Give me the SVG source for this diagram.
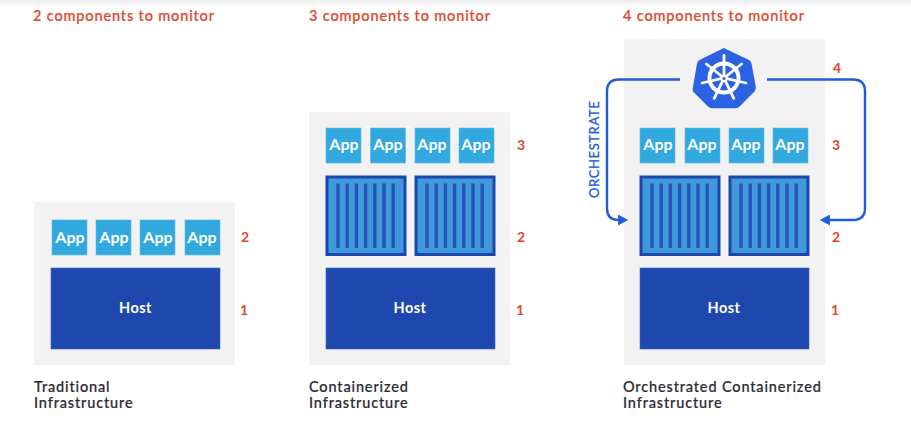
<svg xmlns="http://www.w3.org/2000/svg" width="911" height="424" viewBox="0 0 911 424">
<defs>
<linearGradient id="top" x1="0" y1="0" x2="0" y2="1"><stop offset="0" stop-color="#ececec"/><stop offset="1" stop-color="#ffffff"/></linearGradient>
<marker id="arrow" viewBox="0 0 12 12" refX="1" refY="6" markerWidth="11" markerHeight="11" markerUnits="userSpaceOnUse" orient="auto"><path d="M0 0L11 6L0 12Z" fill="#1f5bdc"/></marker>
<g id="spoke">
<line x1="724" y1="76" x2="724" y2="55.500" class="wh"/>
</g>
</defs>
<style>
text{font-family:"Lato","Noto Sans",sans-serif}
.panel{fill:#f2f2f3}
.app{fill:#31a9df;stroke:#5cbbe6;stroke-width:.6}
.host{fill:#1f48ae;stroke:#3a66c4;stroke-width:.6}
.box{fill:#3f99d9;stroke:#1c46ad;stroke-width:3}
.bar{stroke:#2353b8;stroke-width:3.4;fill:none}
.t-app{fill:#fff;font-size:16px;font-weight:700;text-anchor:middle}
.t-host{fill:#fff;font-size:14.5px;font-weight:700;text-anchor:middle;letter-spacing:.5px}
.t-head{fill:#e2462a;font-size:14.5px;font-weight:500;letter-spacing:.85px;stroke:#e2462a;stroke-width:.2}
.t-num{fill:#e2462a;font-size:14px;font-weight:700;text-anchor:middle}
.t-cap{fill:#2c2c33;font-size:14.5px;font-weight:500;letter-spacing:.85px;stroke:#2c2c33;stroke-width:.2}
.conn{fill:none;stroke:#1f5bdc;stroke-width:2.4}
.wh{stroke:#fff;stroke-width:2.8;stroke-linecap:round}
</style>
<rect x="0" y="0" width="911" height="7" fill="url(#top)"/>

<g id="traditional">
<rect class="panel" x="34" y="202" width="201" height="163"/>
<text class="t-head" x="33" y="21">2 components to monitor</text>
<g id="t-app1"><rect class="app" x="52" y="220" width="35" height="35"/><text class="t-app" x="70" y="243">App</text></g>
<g id="t-app2"><rect class="app" x="96" y="220" width="35" height="35"/><text class="t-app" x="114" y="243">App</text></g>
<g id="t-app3"><rect class="app" x="140" y="220" width="35" height="35"/><text class="t-app" x="158" y="243">App</text></g>
<g id="t-app4"><rect class="app" x="185" y="220" width="35" height="35"/><text class="t-app" x="202" y="243">App</text></g>
<g id="t-host"><rect class="host" x="51" y="268" width="169" height="81"/><text class="t-host" x="135.500" y="313">Host</text></g>
<text class="t-num" x="245" y="242">2</text>
<text class="t-num" x="244" y="315">1</text>
<text class="t-cap" x="34" y="392">Traditional</text>
<text class="t-cap" x="34" y="408">Infrastructure</text>
</g>

<g id="containerized">
<rect class="panel" x="309" y="112" width="201" height="253"/>
<text class="t-head" x="309" y="21">3 components to monitor</text>
<g id="c-app1"><rect class="app" x="326" y="128" width="35" height="35"/><text class="t-app" x="344" y="150">App</text></g>
<g id="c-app2"><rect class="app" x="370.500" y="128" width="35" height="35"/><text class="t-app" x="388" y="150">App</text></g>
<g id="c-app3"><rect class="app" x="415" y="128" width="35" height="35"/><text class="t-app" x="432" y="150">App</text></g>
<g id="c-app4"><rect class="app" x="459" y="128" width="35" height="35"/><text class="t-app" x="476" y="150">App</text></g>
<g id="c-box1"><rect class="box" x="327" y="177" width="78" height="77.500"/><path class="bar" d="M338 183.500V248M347.200 183.500V248M356.400 183.500V248M365.600 183.500V248M374.800 183.500V248M384 183.500V248M393.200 183.500V248"/></g>
<g id="c-box2"><rect class="box" x="416" y="177" width="78" height="77.500"/><path class="bar" d="M427 183.500V248M436.200 183.500V248M445.400 183.500V248M454.600 183.500V248M463.800 183.500V248M473 183.500V248M482.200 183.500V248"/></g>
<g id="c-host"><rect class="host" x="326" y="268" width="169" height="81"/><text class="t-host" x="410" y="313">Host</text></g>
<text class="t-num" x="521" y="150">3</text>
<text class="t-num" x="521" y="242">2</text>
<text class="t-num" x="520" y="315">1</text>
<text class="t-cap" x="309" y="392">Containerized</text>
<text class="t-cap" x="309" y="408">Infrastructure</text>
</g>

<g id="orchestrated">
<rect class="panel" x="624" y="39" width="201" height="326"/>
<text class="t-head" x="623" y="21">4 components to monitor</text>
<g id="o-app1"><rect class="app" x="640" y="128" width="35" height="35"/><text class="t-app" x="658" y="150">App</text></g>
<g id="o-app2"><rect class="app" x="685" y="128" width="35" height="35"/><text class="t-app" x="702" y="150">App</text></g>
<g id="o-app3"><rect class="app" x="729" y="128" width="35" height="35"/><text class="t-app" x="746" y="150">App</text></g>
<g id="o-app4"><rect class="app" x="773" y="128" width="35" height="35"/><text class="t-app" x="790" y="150">App</text></g>
<g id="o-box1"><rect class="box" x="641" y="177" width="78" height="77.500"/><path class="bar" d="M652 183.500V248M661.200 183.500V248M670.400 183.500V248M679.600 183.500V248M688.800 183.500V248M698 183.500V248M707.200 183.500V248"/></g>
<g id="o-box2"><rect class="box" x="730" y="177" width="78" height="77.500"/><path class="bar" d="M741 183.500V248M750.200 183.500V248M759.400 183.500V248M768.600 183.500V248M777.800 183.500V248M787 183.500V248M796.200 183.500V248"/></g>
<g id="o-host"><rect class="host" x="640" y="268" width="169" height="81"/><text class="t-host" x="724" y="313">Host</text></g>
<text class="t-num" x="837" y="73">4</text>
<text class="t-num" x="836" y="150">3</text>
<text class="t-num" x="836" y="242">2</text>
<text class="t-num" x="835" y="315">1</text>
<text class="t-cap" x="623" y="392">Orchestrated Containerized</text>
<text class="t-cap" x="623" y="408">Infrastructure</text>
</g>

<g id="kubernetes">
<path d="M723.800 48L749 60 Q751 61 751.500 63.500L755.800 87Q756 89.500 754.500 91.500L739.500 106.500Q738 108.300 735.500 108.300H712Q709.500 108.300 708 106.500L693 91.500Q692 89.500 693 87L697 63.500Q697.500 61 699.500 60L723.800 48Z" fill="#2b61e3"/>
<circle cx="724" cy="78" r="14.500" fill="none" stroke="#fff" stroke-width="4"/>
<use href="#spoke"/>
<use href="#spoke" transform="rotate(51.43 724 78)"/>
<use href="#spoke" transform="rotate(102.86 724 78)"/>
<use href="#spoke" transform="rotate(154.29 724 78)"/>
<use href="#spoke" transform="rotate(205.71 724 78)"/>
<use href="#spoke" transform="rotate(257.14 724 78)"/>
<use href="#spoke" transform="rotate(308.57 724 78)"/>
<circle cx="724" cy="78.500" r="3.500" fill="#fff"/>
<circle cx="724" cy="78.500" r="1.600" fill="#2b61e3"/>
</g>

<g id="connectors">
<path class="conn" marker-end="url(#arrow)" d="M680 79.500H619Q607 79.500 607 91.500V208Q607 220 618 220H619"/>
<path class="conn" marker-end="url(#arrow)" d="M767 79.500H853Q865 79.500 865 91.500V208Q865 220 853 220H829"/>
</g>
<text x="0" y="0" transform="translate(599 198) rotate(-90)" fill="#1f5bdc" font-size="13px" font-weight="500" letter-spacing=".6" stroke="#1f5bdc" stroke-width=".2">ORCHESTRATE</text>
</svg>
